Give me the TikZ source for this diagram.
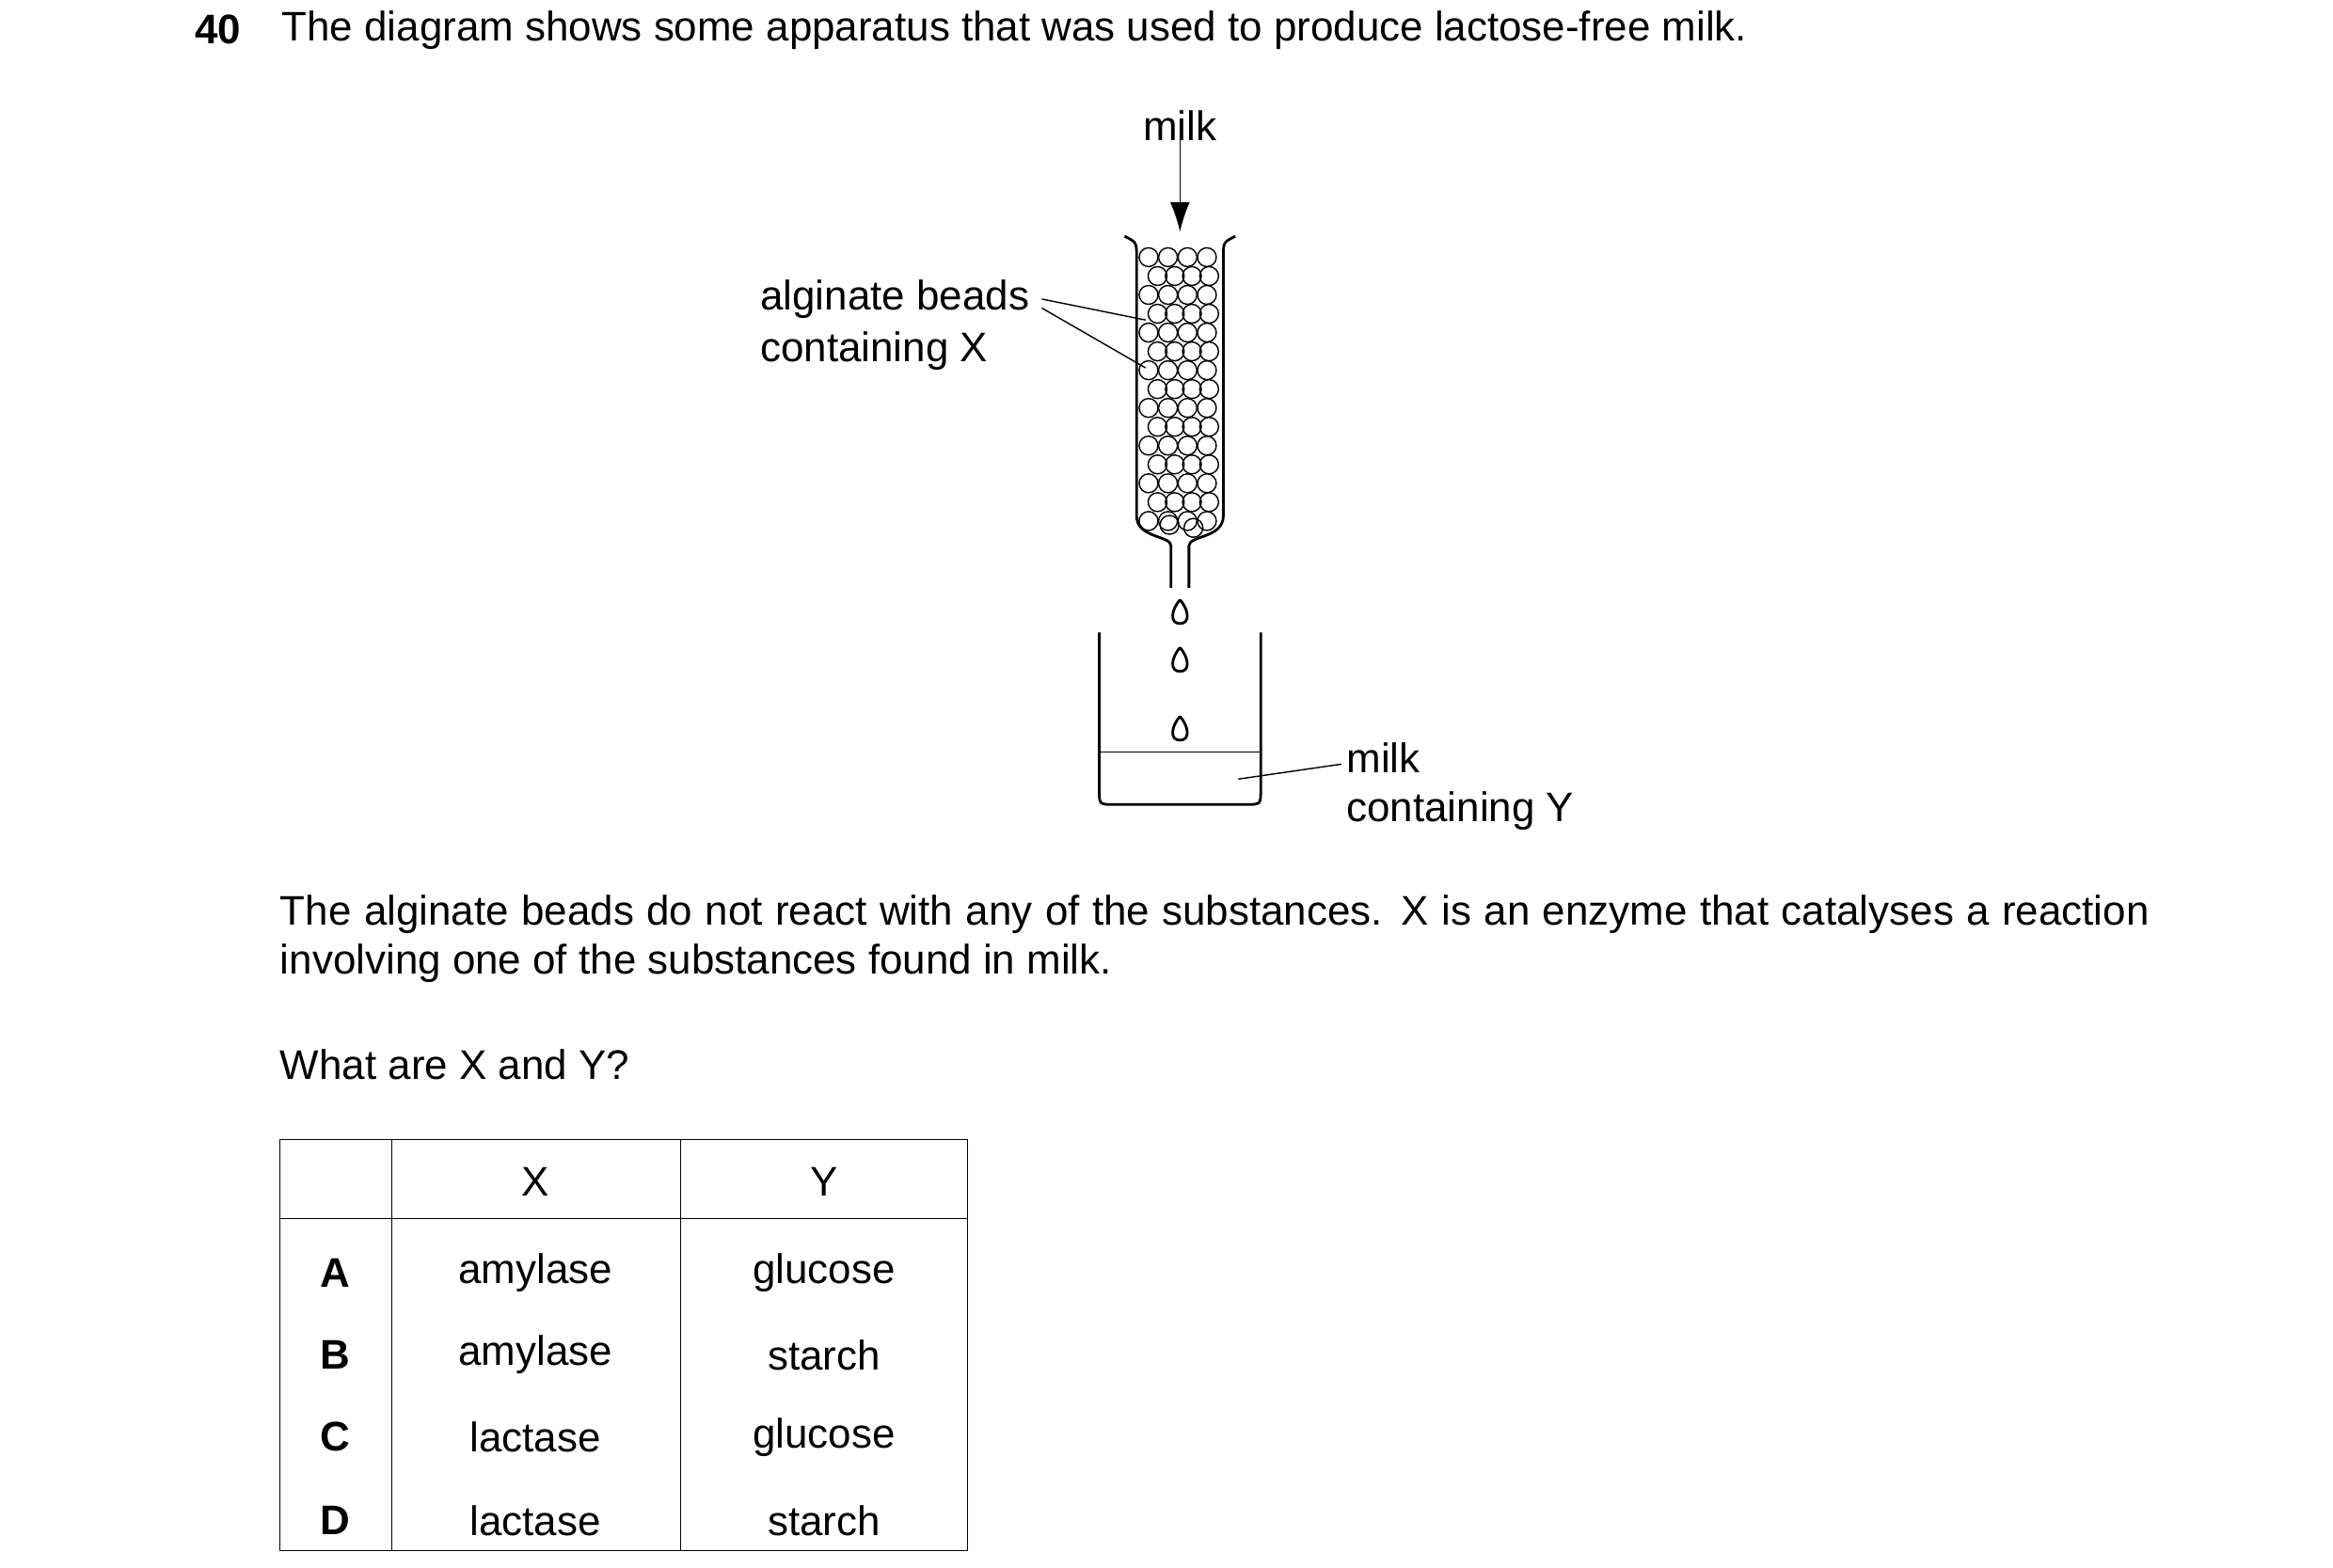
\documentclass[tikz,border=0pt]{standalone}
\usepackage{fontspec}
\setmainfont{Liberation Sans}
\usetikzlibrary{arrows.meta}
\begin{document}
\begin{tikzpicture}[x=0.0159cm,y=-0.0159cm,font=\fontsize{12.5}{15}\selectfont]
	\tikzstyle{txt} = [anchor=west, inner sep=0pt];
	\tikzstyle{cell} = [inner sep=0pt];
	\useasboundingbox (0,0) rectangle (1560,1048);

	\node[txt, font=\fontsize{12.5}{15}\selectfont\bfseries] at (130,20) (qnum) {40};
	\node[txt] at (188,20) (qtext) {The diagram shows some apparatus that was used to produce lactose-free milk.};

	% column
	\node[cell] at (789,84) (milkin) {milk};
	\coordinate (arrtip) at (789,155);
	\draw[-{Latex[length=9pt,width=6pt]}] (milkin.south) ++(0,-8) -- (arrtip);
	\draw[thick] (752,158) .. controls (760,162) .. (760,172) -- (760,345)
		.. controls (760,360) and (783,358) .. (783,365) -- (783,393);
	\draw[thick] (826,158) .. controls (818,162) .. (818,172) -- (818,345)
		.. controls (818,360) and (795,358) .. (795,365) -- (795,393);
	\foreach \r in {0,...,14}{
		\pgfmathsetmacro{\by}{172+12.6*\r}
		\pgfmathsetmacro{\off}{mod(\r,2)*6}
		\foreach \c in {0,...,3}{
			\pgfmathsetmacro{\bx}{768+\off+13*\c-\off*\c*0.25}
			\draw (\bx,\by) circle (6.3);
		}
	}
	\draw (782,351) circle (6.3) (798,353) circle (6.3);

	% drops
	\foreach \yd in {410,442,488}{
		\draw[thick] (789,\yd-9) .. controls (783,\yd-2) and (782,\yd+7) .. (789,\yd+7)
			.. controls (796,\yd+7) and (795,\yd-2) .. (789,\yd-9);
	}

	% beaker
	\draw[thick] (735,423) -- (735,528) .. controls (735,538) .. (745,538) -- (833,538)
		.. controls (843,538) .. (843,528) -- (843,423);
	\draw (735,503) -- (843,503);

	% labels
	\node[txt] at (508,200) (bead1) {alginate beads};
	\node[txt] at (508,235) (bead2) {containing X};
	\draw (bead1.east) ++(8,0) -- (766,214);
	\draw (bead1.east) ++(8,6) -- (766,246);
	\node[txt] at (900,507) (out1) {milk};
	\node[txt] at (900,542) (out2) {containing Y};
	\draw (828,521) -- (897,511);

	% question text
	\node[txt, anchor=north west] at (187,598) (para)
		{\parbox{19.87cm}{\baselineskip=0.525cm The alginate beads do not react with any of the substances. X is an enzyme that catalyses a reaction involving one of the substances found in milk.}};
	\node[txt] at (187,712) (ask) {What are X and Y?};

	% table
	\draw (187,762) rectangle (647,1037);
	\draw (187,815) -- (647,815);
	\draw (262,762) -- (262,1037) (455,762) -- (455,1037);
	\node[cell] at (358,790) {X};
	\node[cell] at (551,790) {Y};
	\foreach \l/\x/\y/\ry in {A/amylase/glucose/851, B/amylase/starch/906, C/lactase/glucose/961, D/lactase/starch/1017}{
		\node[cell, font=\fontsize{12.5}{15}\selectfont\bfseries] at (224,\ry) {\l};
		\node[cell] at (358,\ry) {\x};
		\node[cell] at (551,\ry) {\y};
	}
\end{tikzpicture}
\end{document}
